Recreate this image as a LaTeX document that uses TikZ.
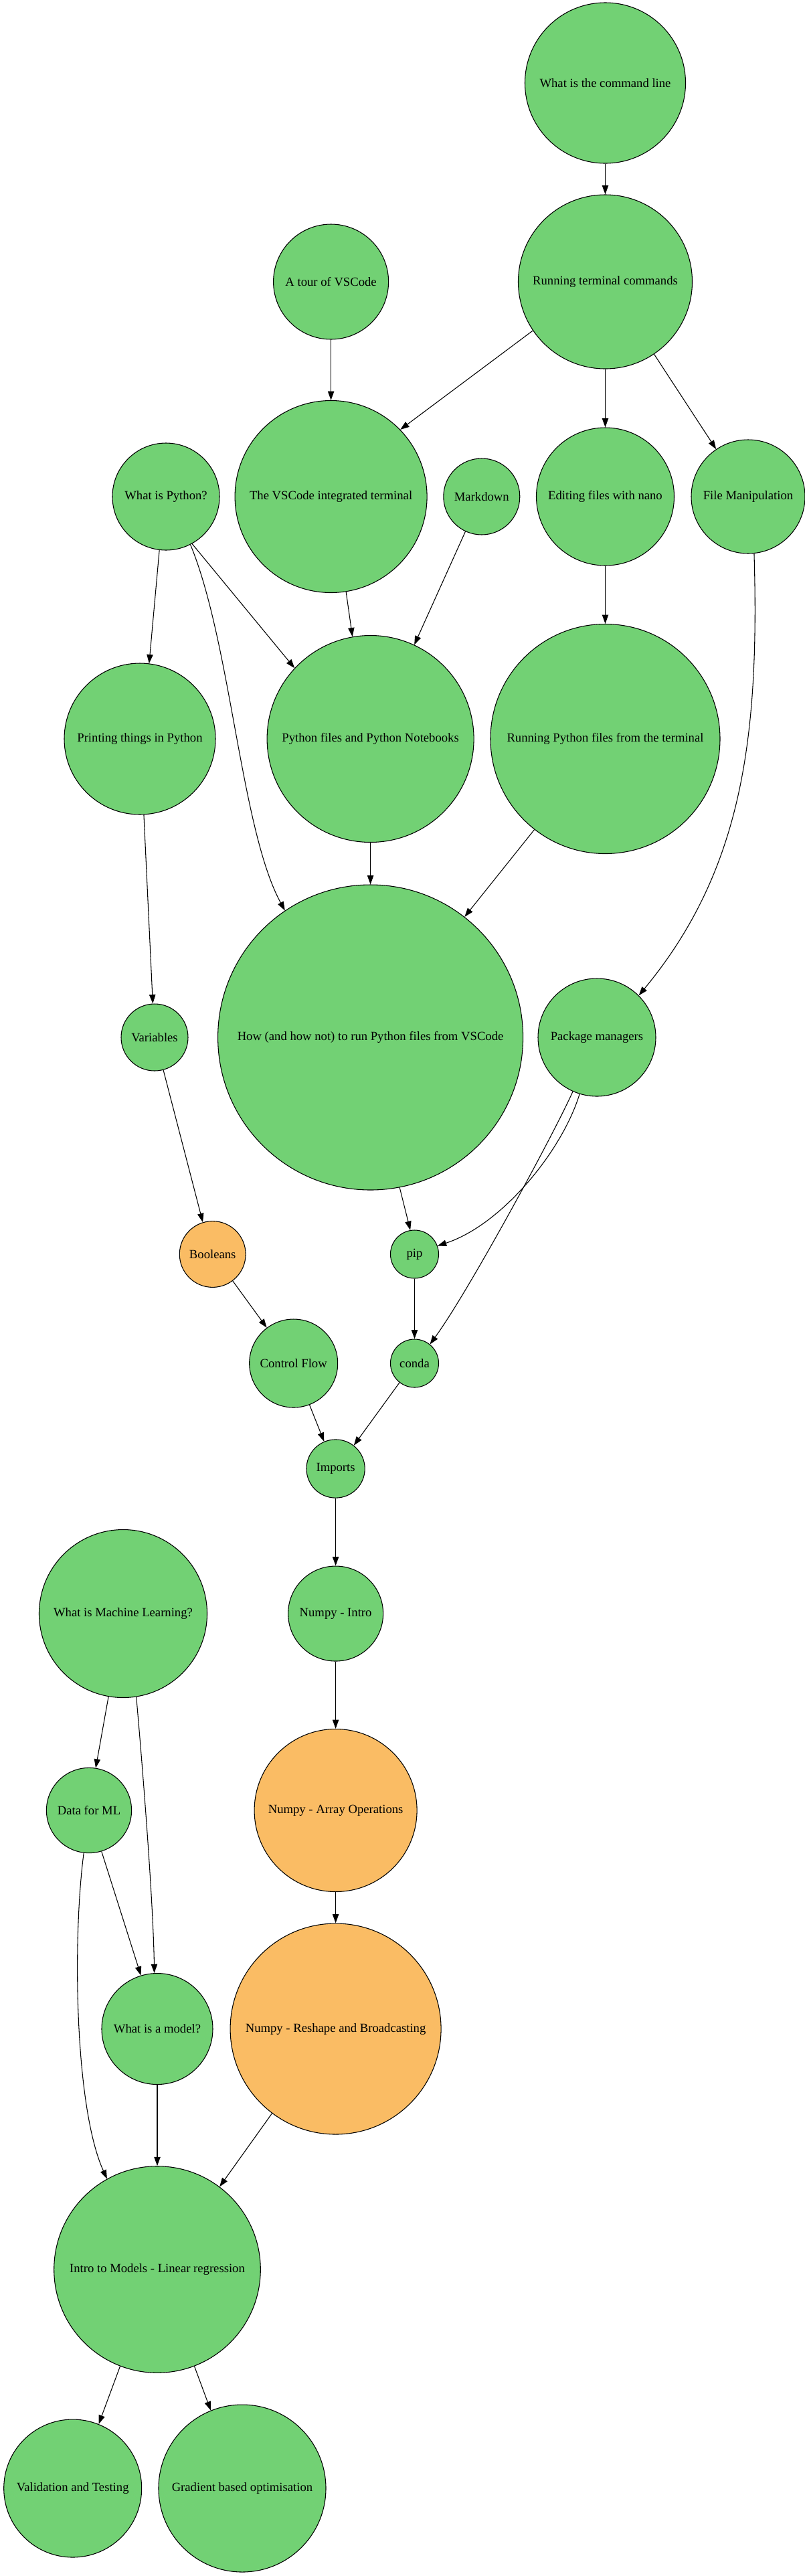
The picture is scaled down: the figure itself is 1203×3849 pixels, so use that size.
\documentclass[tikz,border=0pt]{standalone}
\usepackage{fontspec}
\setmainfont{Liberation Serif}
\usepackage{xcolor}
\usetikzlibrary{arrows.meta}
\definecolor{topicgreen}{RGB}{114,209,116}
\definecolor{topicorange}{RGB}{250,188,100}
\tikzset{
	topic/.style={circle, draw=black, line width=0.8pt, fill=topicgreen, inner sep=0pt,
		minimum size=#1*1.5pt, font=\fontsize{14}{17}\selectfont},
	draft/.style={topic=#1, fill=topicorange},
	link/.style={draw, line width=0.8pt, -{Triangle[length=10pt, width=7pt]}}
}

\begin{document}
\begin{tikzpicture}[x=0.75pt, y=-0.75pt]
	\useasboundingbox (0,0) rectangle (1203,3849);
	
	% Command line and editor topics
	\node[topic=120] (cmd) at (904.5,124) {What is the command line};
	\node[topic=130] (run) at (904.5,421) {Running terminal commands};
	\node[topic=86] (tour) at (494.6,421) {A tour of VSCode};
	\node[topic=143.5] (term) at (494.6,742) {The VSCode integrated terminal};
	\node[topic=80] (py) at (248,742) {What is Python?};
	\node[topic=57] (md) at (719.8,742) {Markdown};
	\node[topic=103] (nano) at (904.5,742) {Editing files with nano};
	\node[topic=85] (fm) at (1118,742) {File Manipulation};
	
	% Running python
	\node[topic=113] (print) at (209,1104) {Printing things in Python};
	\node[topic=154.5] (pyf) at (553.6,1104) {Python files and Python Notebooks};
	\node[topic=171.5] (runpy) at (904.5,1104) {Running Python files from the terminal};
	\node[topic=228] (how) at (553.6,1550) {How (and how not) to run Python files from VSCode};
	\node[topic=50] (var) at (231,1550) {Variables};
	\node[topic=88] (pm) at (892,1550) {Package managers};
	\node[draft=49.4] (bool) at (317.7,1874) {Booleans};
	\node[topic=36] (pip) at (619.5,1874) {pip};
	\node[topic=66] (cf) at (438.7,2037) {Control Flow};
	\node[topic=36] (conda) at (619.5,2037) {conda};
	\node[topic=43.6] (imp) at (501.6,2194.5) {Imports};
	
	% Numpy and machine learning
	\node[topic=125.5] (ml) at (184,2411) {What is Machine Learning?};
	\node[topic=71] (npintro) at (501.6,2411) {Numpy - Intro};
	\node[topic=63.6] (data) at (133,2705) {Data for ML};
	\node[draft=121.5] (nparr) at (501.6,2705) {Numpy - Array Operations};
	\node[topic=83] (model) at (235,3031.5) {What is a model?};
	\node[draft=157.5] (npshape) at (501.6,3031.5) {Numpy - Reshape and Broadcasting};
	\node[topic=154.3] (intro) at (235,3391) {Intro to Models - Linear regression};
	\node[topic=103] (val) at (108.7,3718) {Validation and Testing};
	\node[topic=125] (grad) at (362,3718) {Gradient based optimisation};
	
	% Dependencies
	\draw[link] (cmd) -- (run);
	\draw[link] (run.214) -- (term.44);
	\draw[link] (run) -- (nano);
	\draw[link] (run.304) -- (fm.124);
	\draw[link] (tour) -- (term);
	\draw[link] (py.263) -- (print.83);
	\draw[link] (py.299) -- (pyf.137);
	\draw[link] (py.297) .. controls (345,960) and (360,1240) .. (how.124);
	\draw[link] (term.279) -- (pyf.100);
	\draw[link] (md.245) -- (pyf.65);
	\draw[link] (nano) -- (runpy);
	\draw[link] (fm.276) .. controls (1135,1100) and (1110,1300) .. (pm.45);
	\draw[link] (print.273) -- (var.93);
	\draw[link] (pyf) -- (how);
	\draw[link] (runpy.232) -- (how.52);
	\draw[link] (var.285) -- (bool.107);
	\draw[link] (how.281) -- (pip.100);
	\draw[link] (pm.253) .. controls (840,1720) and (750,1830) .. (pip.20);
	\draw[link] (pm.246) .. controls (830,1690) and (700,1930) .. (conda.51);
	\draw[link] (bool.307) -- (cf.127);
	\draw[link] (pip) -- (conda);
	\draw[link] (cf.291) -- (imp.113);
	\draw[link] (conda.232) -- (imp.52);
	\draw[link] (imp) -- (npintro);
	\draw[link] (npintro) -- (nparr);
	\draw[link] (ml.260) -- (data.81);
	\draw[link] (ml.279) .. controls (213,2640) and (229,2840) .. (model.93);
	\draw[link] (data.287) -- (model.107);
	\draw[link] (data.263) .. controls (108,2900) and (112,3150) .. (intro.119);
	\draw[link] (model) -- (intro);
	\draw[link] (nparr) -- (npshape);
	\draw[link] (npshape.233) -- (intro.53);
	\draw[link] (intro.249) -- (val.68);
	\draw[link] (intro.291) -- (grad.112);
	
\end{tikzpicture}
\end{document}
